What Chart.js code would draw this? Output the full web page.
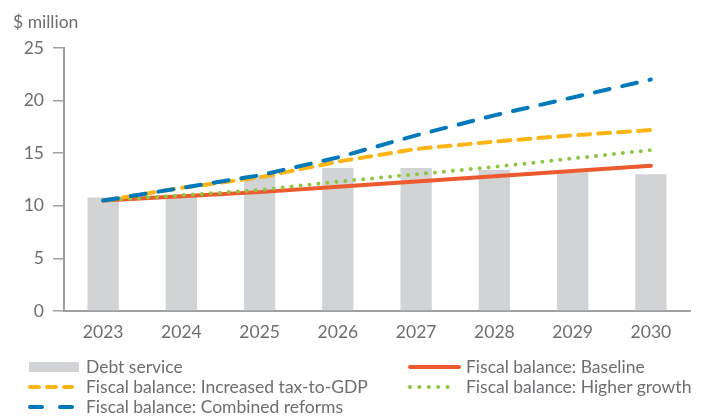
<!DOCTYPE html>
<html><head><meta charset="utf-8">
<script src="https://cdn.jsdelivr.net/npm/chart.js@4"></script>
<style>
html,body{margin:0;padding:0;background:#fff;}
#wrap{position:relative;width:709px;height:416px;font-family:Lato,"Noto Sans",sans-serif;color:#6d6e71;}
#c{position:absolute;left:0;top:0;}
#unit{position:absolute;left:13px;top:12px;font-size:17.5px;line-height:20px;}
.lg{position:absolute;font-size:17.5px;line-height:20px;white-space:nowrap;height:20px;}
.lg svg{position:absolute;left:0;top:0;}
.lg span{position:absolute;top:0;}
</style></head><body>
<div id="wrap"><canvas id="c" width="709" height="416"></canvas><div id="unit">$ million</div><div id="legend"></div></div>
<script>
const years = ['2023','2024','2025','2026','2027','2028','2029','2030'];
const debtService = [10.8, 10.9, 12.9, 13.6, 13.6, 13.4, 13.2, 13.0];
const baseline = [10.5, 10.9, 11.3, 11.8, 12.3, 12.8, 13.3, 13.8];
const higherGrowth = [10.5, 11.0, 11.5, 12.3, 13.0, 13.7, 14.5, 15.3];
const increasedTax = [10.5, 11.7, 12.7, 14.2, 15.4, 16.1, 16.7, 17.2];
const combinedReforms = [10.5, 11.7, 12.9, 14.6, 16.7, 18.6, 20.3, 22.0];
const yTicks = [0, 5, 10, 15, 20, 25];

const GRAY = '#d1d3d4', RED = '#ee5a2f', ORANGE = '#fdb515', GREEN = '#8dc63f', BLUE = '#0079bc';
const AX = '#9d9fa2', TXT = '#6d6e71';

const lineDs = (label, data, color, dash, order) => ({
  type: 'line', label, data, borderColor: color, backgroundColor: color, borderWidth: 4,
  borderDash: dash, borderCapStyle: 'round', pointRadius: 0, pointHoverRadius: 0,
  tension: 0, order, fill: false
});

new Chart(document.getElementById('c'), {
  data: {
    labels: years,
    datasets: [
      {type: 'bar', label: 'Debt service', data: debtService, backgroundColor: GRAY,
       barPercentage: 0.8, categoryPercentage: 0.5, order: 10},
      lineDs('Fiscal balance: Baseline', baseline, RED, [], 5),
      lineDs('Fiscal balance: Increased tax-to-GDP', increasedTax, ORANGE, [12, 8], 3),
      lineDs('Fiscal balance: Higher growth', higherGrowth, GREEN, [0, 9], 4),
      lineDs('Fiscal balance: Combined reforms', combinedReforms, BLUE, [15, 13], 2)
    ]
  },
  options: {
    responsive: false, animation: false, events: [],
    layout: {padding: {top: 48, right: 19, left: 0, bottom: 0}},
    plugins: {legend: {display: false}, tooltip: {enabled: false}},
    scales: {
      x: {
        grid: {display: false, drawTicks: false}, border: {display: true, color: AX, width: 2},
        ticks: {color: TXT, font: {family: 'Lato', size: 17.5}, padding: 11},
        afterFit: s => { s.height = 105; }
      },
      y: {
        min: 0, max: 25,
        afterBuildTicks: s => { s.ticks = yTicks.map(v => ({value: v})); },
        grid: {drawOnChartArea: false, drawTicks: true, tickLength: 11, color: AX, lineWidth: 1.5},
        border: {display: true, color: AX, width: 2},
        ticks: {color: TXT, font: {family: 'Lato', size: 17.5}, padding: 9},
        afterFit: s => { s.width = 64; }
      }
    }
  }
});

// legend
const items = [
  {label: 'Debt service', kind: 'box', color: GRAY, x: 29, y: 357, w: 50, tx: 86},
  {label: 'Fiscal balance: Baseline', kind: 'line', color: RED, dash: '', x: 408, y: 357, w: 53, tx: 466},
  {label: 'Fiscal balance: Increased tax-to-GDP', kind: 'line', color: ORANGE, dash: '9 8', x: 28, y: 377, w: 46, tx: 86},
  {label: 'Fiscal balance: Higher growth', kind: 'line', color: GREEN, dash: '0 9.4', x: 408, y: 377, w: 49, tx: 466},
  {label: 'Fiscal balance: Combined reforms', kind: 'line', color: BLUE, dash: '12 18', x: 28, y: 397, w: 46, tx: 86}
];
const lg = document.getElementById('legend');
items.forEach(it => {
  const d = document.createElement('div');
  d.className = 'lg';
  d.style.left = it.x + 'px'; d.style.top = it.y + 'px';
  const sw = it.kind === 'box'
    ? `<rect x="0" y="5" width="${it.w}" height="10" fill="${it.color}"/>`
    : `<line x1="2" y1="10" x2="${it.w - 2}" y2="10" stroke="${it.color}" stroke-width="4" stroke-linecap="round" stroke-dasharray="${it.dash}"/>`;
  d.innerHTML = `<svg width="${it.w + 2}" height="20">${sw}</svg><span style="left:${it.tx - it.x}px">${it.label}</span>`;
  lg.appendChild(d);
});
</script>
</body></html>
